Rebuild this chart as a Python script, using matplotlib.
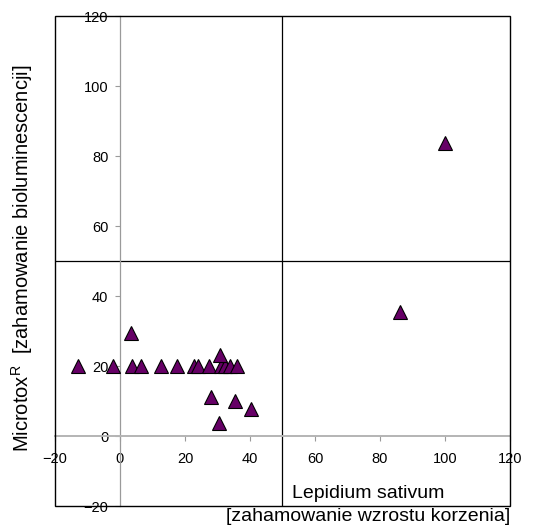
import matplotlib
matplotlib.use("Agg")
import matplotlib.pyplot as plt
from matplotlib.patches import Rectangle

plt.rcParams["font.family"] = ["Liberation Sans", "DejaVu Sans"]
plt.rcParams["mathtext.fontset"] = "custom"
plt.rcParams["mathtext.rm"] = "Liberation Sans"
plt.rcParams["mathtext.it"] = "Liberation Sans:italic"

# Root growth inhibition (Lepidium sativum) vs bioluminescence inhibition (Microtox)
lepidium = [-13.0, -2.0, 3.8, 3.3, 6.6, 12.6, 17.6, 22.8, 24.0, 27.5, 31.0, 32.2,
            30.9, 33.8, 36.1, 27.9, 30.6, 35.3, 40.2, 86.2, 100.0]
microtox = [20.0, 20.0, 20.0, 29.3, 20.0, 20.0, 20.0, 20.0, 20.0, 20.0, 20.0, 20.0,
            23.1, 20.0, 20.0, 11.2, 3.7, 9.9, 7.8, 35.5, 83.6]

ticks = [-20, 0, 20, 40, 60, 80, 100, 120]
threshold = 50

fig = plt.figure(figsize=(5.45, 5.32), dpi=100)
ax = fig.add_axes([55 / 545, 26 / 532, 455 / 545, 490 / 532])
ax.set_xlim(-20, 120)
ax.set_ylim(-20, 120)

# zero axes crossing inside the frame
ax.spines["left"].set_position(("data", 0))
ax.spines["bottom"].set_position(("data", 0))
ax.spines["left"].set_color("#9a9a9a")
ax.spines["left"].set_linewidth(0.9)
ax.spines["bottom"].set_color("#b4b4b4")
ax.spines["bottom"].set_linewidth(1.4)
ax.spines["top"].set_visible(False)
ax.spines["right"].set_visible(False)

ax.set_xticks(ticks)
ax.set_yticks(ticks)
ax.tick_params(axis="both", direction="out", length=3.8, width=0.8,
               color="#9a9a9a", labelsize=10.5, labelcolor="black")
ax.tick_params(axis="x", pad=8)
ax.tick_params(axis="y", pad=4.5)

# outer frame
ax.add_patch(Rectangle((0, 0), 1, 1, transform=ax.transAxes, fill=False,
                       edgecolor="black", linewidth=1.0, clip_on=False, zorder=4))

# quadrant dividers
ax.axvline(threshold, color="black", linewidth=0.9, zorder=1)
ax.axhline(threshold, color="black", linewidth=0.9, zorder=1)

ax.plot(lepidium, microtox, linestyle="none", marker="^", markersize=10,
        markerfacecolor="#660066", markeredgecolor="black", markeredgewidth=0.8,
        zorder=3, clip_on=False)

fig.text(22 / 545, 1 - 258 / 532,
         r"Microtox$^{\mathrm{R}}$  [zahamowanie bioluminescencji]",
         rotation=90, ha="center", va="center", fontsize=14.5)
fig.text(368.5 / 545, 1 - 505 / 532,
         "Lepidium sativum\n[zahamowanie wzrostu korzenia]",
         ha="center", va="center", multialignment="center",
         fontsize=14, linespacing=1.4)

fig.savefig("out.png", dpi=100)
